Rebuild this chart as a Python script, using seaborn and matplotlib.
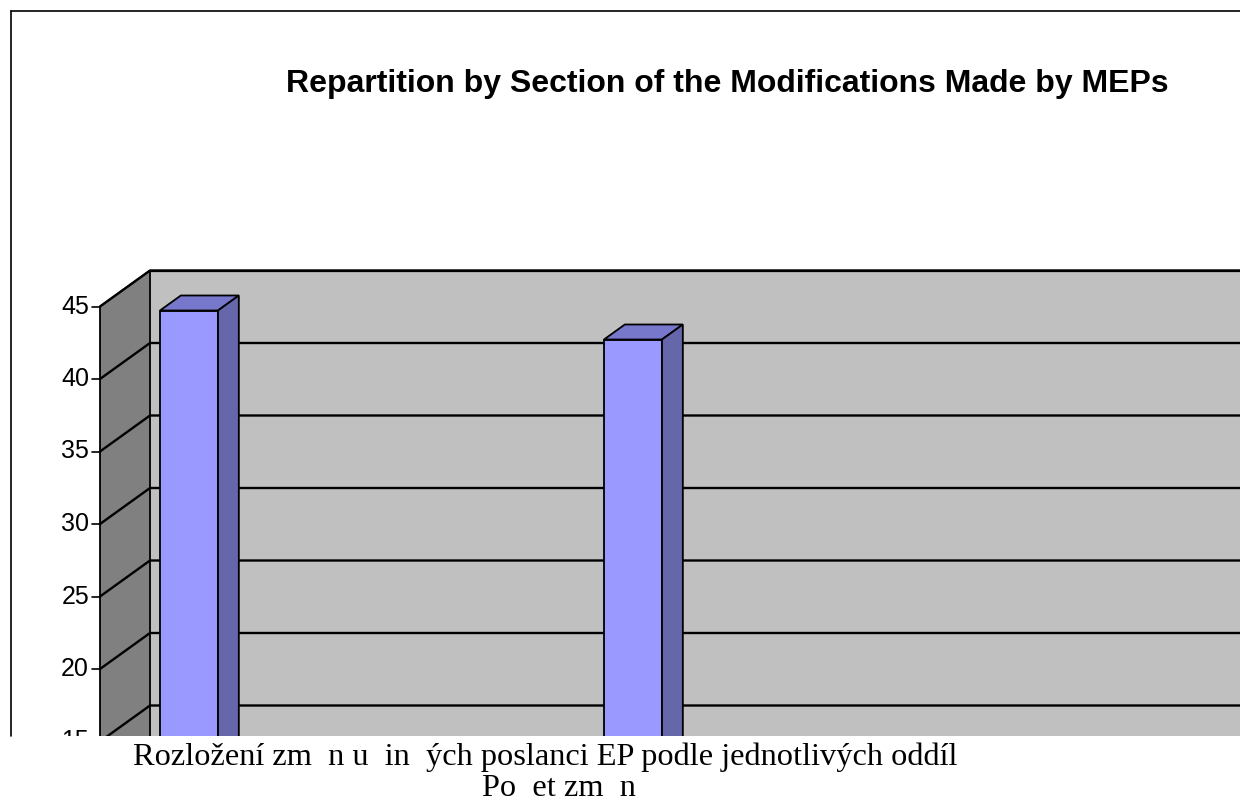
import matplotlib
matplotlib.use("Agg")
import matplotlib.pyplot as plt
from matplotlib.patches import Polygon
from matplotlib.lines import Line2D
import seaborn as sns
import pandas as pd

# ---- data ----
categories = ["Section 1", "Section 2"]
values = [44, 42]
tick_values = [15, 20, 25, 30, 35, 40, 45]
title = "Repartition by Section of the Modifications Made by MEPs"
caption_1 = "Rozložení zm  n u  in  ých poslanci EP podle jednotlivých oddíl"
caption_2 = "Po  et zm  n"

# ---- style / geometry ----
W, H = 1240, 801
sns.set_theme(style="white")
plt.rcParams["font.family"] = ["Liberation Sans", "DejaVu Sans"]

fig = plt.figure(figsize=(W / 100, H / 100), dpi=100)
ax_bottom_px = 736
ax = fig.add_axes([0, (H - ax_bottom_px) / H, 1, ax_bottom_px / H])

PX_X = 444.0      # pixels per category step
PX_Y = 14.5       # pixels per value unit
DX = 50 / PX_X    # full depth offset, x units
DY = 36 / PX_Y    # full depth offset, value units
F = 10.5 / 36     # depth of bar front plane
BD = 15 / 36      # bar depth fraction
XW = -0.1676      # wall x (category units)
XR = 3.0
YLO, YHI = 14.0, 45.0
Y45_PX = 296.0    # pixel row of value 45 in the bar plane

def P(x, v, d):
    return (x + (d - F) * DX, v + (d - F) * DY)

df = pd.DataFrame({"cat": categories, "val": values})
sns.barplot(data=df, x="cat", y="val", color="#9999ff", width=58 / PX_X,
            edgecolor="black", linewidth=1.3, saturation=1, ax=ax, zorder=5)
bar_patches = list(ax.patches)

# walls
back = Polygon([P(XW, YLO - 5, 1), P(XR, YLO - 5, 1), P(XR, YHI, 1), P(XW, YHI, 1)],
               closed=True, facecolor="#c0c0c0", edgecolor="none", zorder=1)
ax.add_patch(back)
left = Polygon([P(XW, YLO - 5, 0), P(XW, YHI, 0), P(XW, YHI, 1), P(XW, YLO - 5, 1)],
               closed=True, facecolor="#808080", edgecolor="black", linewidth=1.3, zorder=2)
ax.add_patch(left)
ax.plot([P(XW, YHI, 1)[0], P(XR, YHI, 1)[0]], [P(XW, YHI, 1)[1]] * 2,
        color="black", lw=1.6, zorder=3)

# gridlines + ticks
for t in tick_values:
    a, b, c = P(XW, t, 0), P(XW, t, 1), P(XR, t, 1)
    ax.plot([a[0], b[0], c[0]], [a[1], b[1], c[1]], color="black", lw=1.7, zorder=3)
    ax.plot([a[0] - 8 / PX_X, a[0]], [a[1], a[1]], color="black", lw=1.2, zorder=3)
    ax.text(a[0] - 11 / PX_X, a[1], str(t), ha="right", va="center",
            fontsize=18, color="black", zorder=6, clip_on=True)

# 3D faces of bars
for p in bar_patches:
    x0, w, h = p.get_x(), p.get_width(), p.get_height()
    bx, by = BD * DX, BD * DY
    top = Polygon([(x0, h), (x0 + w, h), (x0 + w + bx, h + by), (x0 + bx, h + by)],
                  closed=True, facecolor="#7777cc", edgecolor="black", lw=1.3, zorder=5)
    side = Polygon([(x0 + w, 0), (x0 + w, h), (x0 + w + bx, h + by), (x0 + w + bx, by)],
                   closed=True, facecolor="#6666aa", edgecolor="black", lw=1.3, zorder=5)
    ax.add_patch(top)
    ax.add_patch(side)

ax.set_xlim(-189 / PX_X, (W - 189) / PX_X)
ax.set_ylim(45 - (ax_bottom_px - Y45_PX) / PX_Y, 45 + Y45_PX / PX_Y)
ax.set_axis_off()

def fx(px):
    return px / W
def fy(py):
    return (H - py) / H
fig.add_artist(Line2D([fx(11), fx(W)], [fy(11), fy(11)], color="black", lw=1.2))
fig.add_artist(Line2D([fx(11), fx(11)], [fy(11), fy(ax_bottom_px)], color="black", lw=1.2))

fig.text(fx(727), fy(92), title, ha="center", va="baseline",
         fontsize=23, fontweight="bold", color="black")
serif = ["Liberation Serif", "DejaVu Serif"]
fig.text(fx(133), fy(765), caption_1, ha="left", va="baseline",
         fontsize=23.3, family=serif, color="black")
fig.text(fx(482), fy(796), caption_2, ha="left", va="baseline",
         fontsize=23.3, family=serif, color="black")

fig.savefig("out.png", dpi=100, facecolor="white")
